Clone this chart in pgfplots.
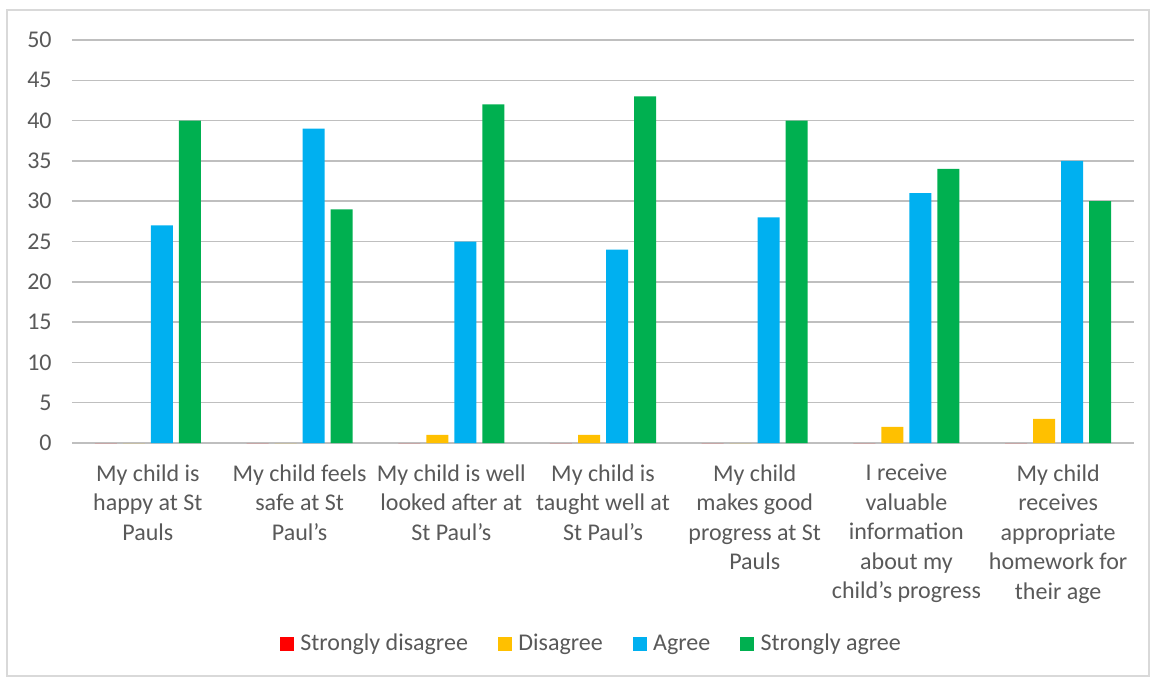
\documentclass[border=0pt]{standalone}
\usepackage{pgfplots}
\pgfplotsset{compat=1.18}
\usepackage{fontspec}
\setmainfont{Carlito}
\definecolor{cSD}{HTML}{FF0000}
\definecolor{cD}{HTML}{FFC000}
\definecolor{cA}{HTML}{00B0F0}
\definecolor{cSA}{HTML}{00B050}
\definecolor{txt}{HTML}{595959}
\definecolor{grid}{HTML}{D9D9D9}
\begin{document}
\begin{tikzpicture}
\useasboundingbox (-36pt,-118.5pt) rectangle (541.5pt,221.5pt);
\draw[grid, line width=0.75pt] (-32.5pt,-116.5pt) rectangle (538.5pt,216.5pt);
\begin{axis}[
  at={(0,0)}, anchor=south west,
  scale only axis, width=531pt, height=201.5pt,
  ybar=3pt, bar width=11pt,
  xmin=-0.5, xmax=6.5, ymin=0, ymax=50,
  ytick={0,5,...,50},
  xtick={0,1,2,3,4,5,6},
  xticklabels={
    {My child is\\happy at St\\Pauls},
    {My child feels\\safe at St\\Paul’s},
    {My child is well\\looked after at\\St Paul’s},
    {My child is\\taught well at\\St Paul’s},
    {My child\\makes good\\progress at St\\Pauls},
    {I receive\\valuable\\information\\about my\\child’s progress},
    {My child\\receives\\appropriate\\homework for\\their age}},
  xticklabel style={align=center, anchor=north, inner sep=0pt, yshift=-10.5pt, font=\fontsize{12}{14.75}\selectfont, text=txt},
  yticklabel style={anchor=east, inner sep=0pt, xshift=-10pt, font=\fontsize{12}{14.75}\selectfont, text=txt},
  /pgf/number format/assume math mode=true,
  major tick length=0pt,
  xmajorgrids=false, ymajorgrids=true, grid style={grid, line width=0.75pt},
  axis line style={draw=none},
  legend style={draw=none, at={(0.49,-0.4988)}, anchor=center, legend columns=4,
    font=\fontsize{12}{14.75}\selectfont, text=txt,
    /tikz/every odd column/.append style={column sep=1.2pt},
    /tikz/every even column/.append style={column sep=13pt}},
  legend image code/.code={\fill[#1] (0pt,-3.5pt) rectangle (7pt,3.5pt);},
  legend cell align=left,
]
\addplot[fill=cSD, draw=none] coordinates {(0,0) (1,0) (2,0) (3,0) (4,0) (5,0) (6,0)};
\addplot[fill=cD, draw=none] coordinates {(0,0) (1,0) (2,1) (3,1) (4,0) (5,2) (6,3)};
\addplot[fill=cA, draw=none] coordinates {(0,27) (1,39) (2,25) (3,24) (4,28) (5,31) (6,35)};
\addplot[fill=cSA, draw=none] coordinates {(0,40) (1,29) (2,42) (3,43) (4,40) (5,34) (6,30)};
\legend{Strongly disagree, Disagree, Agree, Strongly agree}
\end{axis}
\end{tikzpicture}
\end{document}
